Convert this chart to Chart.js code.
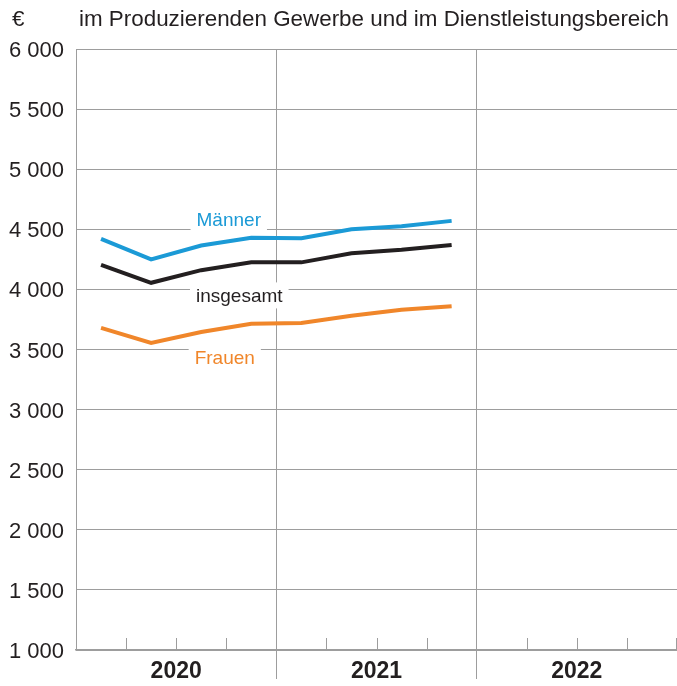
<!DOCTYPE html>
<html lang="de">
<head>
  <meta charset="UTF-8">
  <title>Verdienste im Produzierenden Gewerbe und im Dienstleistungsbereich</title>
  <script src="https://cdn.jsdelivr.net/npm/chart.js"></script>
  <style>
    body { margin: 0; background: #fff; }
    #wrap { width: 677px; height: 686px; }
  </style>
</head>
<body>
  <div id="wrap"><canvas id="chart" width="677" height="686"></canvas></div>

  <script>
    // Daten (Euro, Quartale 2020 bis 2021)
    const years = ['2020', '2021', '2022'];
    const quarters = ['2020 Q1', '2020 Q2', '2020 Q3', '2020 Q4', '2021 Q1', '2021 Q2', '2021 Q3', '2021 Q4'];
    const maenner = [4420, 4250, 4365, 4430, 4425, 4500, 4525, 4570];
    const insgesamt = [4205, 4055, 4160, 4225, 4225, 4300, 4330, 4370];
    const frauen = [3680, 3555, 3645, 3715, 3720, 3780, 3830, 3860];
    const yMin = 1000, yMax = 6000, yStep = 500;

    const FONT = "'Liberation Sans', Arial, sans-serif";
    const GRID = '#9d9d9d';
    const TEXT = '#231f20';
    const BLUE = '#1b9ad6';
    const ORANGE = '#f0862a';

    // jedes Quartal sitzt in der Mitte seiner Spalte
    function toPoints(values) {
      return values.map((v, i) => ({ x: i + 0.5, y: v }));
    }

    // Beschriftungen der Linien, in Achsenwerten
    const lineLabels = [
      { text: 'Männer', color: BLUE, x: 3.05, y: 4583 },
      { text: 'insgesamt', color: TEXT, x: 3.26, y: 3950 },
      { text: 'Frauen', color: ORANGE, x: 2.97, y: 3433 }
    ];

    const extras = {
      id: 'extras',
      beforeDatasetsDraw(chart) {
        // kleine Quartalsstriche an der Grundlinie
        const { ctx, chartArea, scales } = chart;
        ctx.save();
        ctx.strokeStyle = GRID;
        ctx.lineWidth = 1;
        for (let q = 1; q <= 12; q++) {
          if (q % 4 === 0 && q < 12) continue;
          const x = Math.min(Math.round(scales.x.getPixelForValue(q)) + 0.5, chart.width - 0.5);
          ctx.beginPath();
          ctx.moveTo(x, chartArea.bottom);
          ctx.lineTo(x, chartArea.bottom - 12);
          ctx.stroke();
        }
        ctx.restore();
      },
      afterDatasetsDraw(chart) {
        const { ctx, scales } = chart;
        ctx.save();
        ctx.font = '19px ' + FONT;
        ctx.textAlign = 'center';
        ctx.textBaseline = 'middle';
        lineLabels.forEach(l => {
          const x = scales.x.getPixelForValue(l.x);
          const y = scales.y.getPixelForValue(l.y);
          const w = ctx.measureText(l.text).width + 12;
          ctx.fillStyle = '#fff';
          ctx.fillRect(x - w / 2, y - 13, w, 26);
          ctx.fillStyle = l.color;
          ctx.fillText(l.text, x, y + 1);
        });
        ctx.restore();
      },
      afterDraw(chart) {
        const { ctx } = chart;
        ctx.save();
        ctx.fillStyle = TEXT;
        ctx.textBaseline = 'alphabetic';
        ctx.font = '22.4px ' + FONT;
        ctx.fillText('€', 12, 26);
        ctx.fillText('im Produzierenden Gewerbe und im Dienstleistungsbereich', 79, 26);
        ctx.restore();
      }
    };

    const yearLine = ctx => {
      const v = ctx.tick ? ctx.tick.value : -1;
      return (v % 4 === 0 && v > 0 && v < 12) ? GRID : 'rgba(0,0,0,0)';
    };

    new Chart(document.getElementById('chart'), {
      type: 'line',
      data: {
        labels: quarters,
        datasets: [
          { label: 'Männer', data: toPoints(maenner), borderColor: BLUE },
          { label: 'insgesamt', data: toPoints(insgesamt), borderColor: TEXT },
          { label: 'Frauen', data: toPoints(frauen), borderColor: ORANGE }
        ]
      },
      options: {
        responsive: false,
        animation: false,
        events: [],
        layout: { padding: { top: 49, left: 0, right: 0, bottom: 0 } },
        elements: {
          line: { borderWidth: 4, tension: 0, fill: false },
          point: { radius: 0 }
        },
        plugins: {
          legend: { display: false },
          tooltip: { enabled: false }
        },
        scales: {
          x: {
            type: 'linear',
            min: 0,
            max: 12,
            afterBuildTicks(scale) {
              scale.ticks = [0, 2, 4, 6, 8, 10, 12].map(v => ({ value: v }));
            },
            afterFit(scale) { scale.height = 36; },
            ticks: {
              autoSkip: false,
              maxRotation: 0,
              padding: -21,
              color: TEXT,
              font: { family: FONT, size: 23, weight: 'bold' },
              callback: v => (v % 4 === 2 ? years[(v - 2) / 4] : '')
            },
            grid: {
              color: yearLine,
              tickColor: yearLine,
              tickLength: 29,
              lineWidth: 1
            },
            border: { display: true, color: GRID, width: 1.5 }
          },
          y: {
            min: yMin,
            max: yMax,
            afterFit(scale) { scale.width = 76; },
            ticks: {
              stepSize: yStep,
              padding: 12,
              labelOffset: 2,
              color: TEXT,
              font: { family: FONT, size: 22 },
              callback: v => String(v).replace(/\B(?=(\d{3})+(?!\d))/g, ' ')
            },
            grid: { color: GRID, lineWidth: 1, drawTicks: false },
            border: { display: true, color: GRID, width: 1 }
          }
        }
      },
      plugins: [extras]
    });
  </script>
</body>
</html>
